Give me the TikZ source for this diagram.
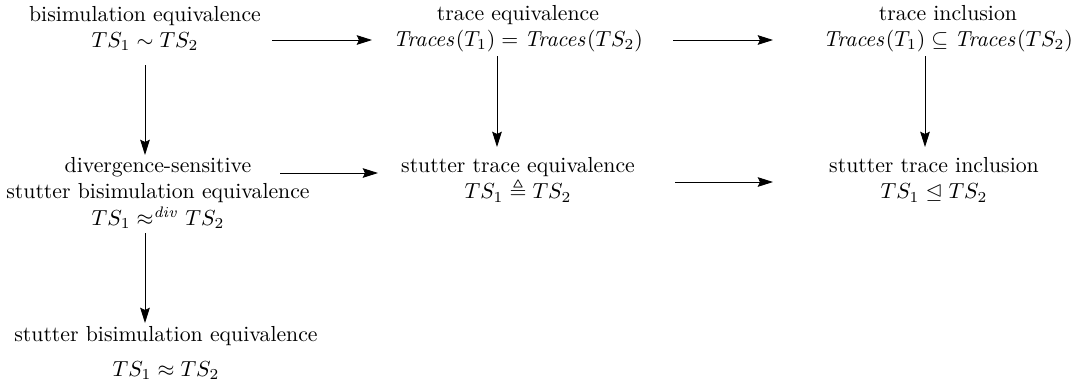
\documentclass[tikz,border=0pt]{standalone}
\usepackage{amsmath,amssymb}
\usepackage{tikz}
\usetikzlibrary{arrows.meta,calc}

\begin{document}
\begin{tikzpicture}[x=0.01614cm,y=-0.01614cm,>={Stealth[length=7pt,width=4.4pt,inset=1pt]},
  lbl/.style={align=center,inner sep=0pt}]
\useasboundingbox (0,0) rectangle (1079,384);
% the relations
\node[lbl] (bis) at (145,28.5) {bisimulation equivalence\\ $TS_1 \sim TS_2$};
\node[lbl] (tr) at (518,28.5) {trace equivalence\\ $\mathit{Traces}(T_1) = \mathit{Traces}(TS_2)$};
\node[lbl] (inc) at (948,28.5) {trace inclusion\\ $\mathit{Traces}(T_1) \subseteq \mathit{Traces}(TS_2)$};
\node[lbl] (div) at (158,193) {divergence-sensitive\\ stutter bisimulation equivalence\\ $TS_1 \approx^{\mathit{div}} TS_2$};
\node[lbl] (st) at (518,180) {stutter trace equivalence\\ $TS_1 \triangleq TS_2$};
\node[lbl] (sti) at (934,180) {stutter trace inclusion\\ $TS_1 \trianglelefteq TS_2$};
\node[lbl] (sb) at (166,353) {stutter bisimulation equivalence\\[4pt] $TS_1 \approx TS_2$};
% implications
\draw[->] ($(bis)+(127,11.5)$) -- ($(tr)+(-146,11.5)$);
\draw[->] ($(tr)+(155,11.5)$) -- ($(inc)+(-175,11.5)$);
\draw[->] ($(bis)+(0,36.5)$) -- ($(div)+(-13,-38)$);
\draw[->] ($(tr)+(-21,27.5)$) -- ($(st)+(-21,-33)$);
\draw[->] ($(inc)+(-23,27.5)$) -- ($(sti)+(-9,-33)$);
\draw[->] ($(div)+(122,-20)$) -- ($(st)+(-140,-7)$);
\draw[->] ($(st)+(157,2)$) -- ($(sti)+(-161,2)$);
\draw[->] ($(div)+(-13,40)$) -- ($(sb)+(-21,-30)$);
\end{tikzpicture}
\end{document}
